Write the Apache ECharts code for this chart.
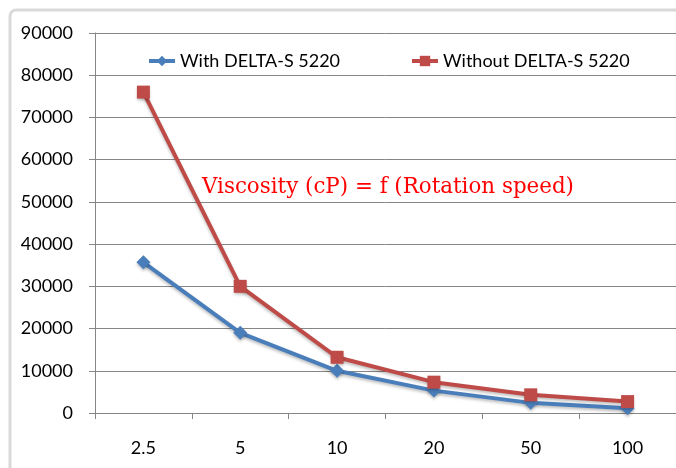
<!DOCTYPE html>
<html>
<head>
<meta charset="utf-8">
<script src="https://cdn.jsdelivr.net/npm/echarts@6/dist/echarts.min.js"></script>
<style>
  html, body { margin: 0; padding: 0; background: #fff; }
  #container { width: 676px; height: 468px; }
</style>
</head>
<body>
<div id="container"></div>
<script>
// rotation speed categories and viscosity values (cP)
var speeds = ['2.5', '5', '10', '20', '50', '100'];
var withDelta = [35700, 19000, 10000, 5300, 2400, 1100];
var withoutDelta = [76000, 30000, 13200, 7300, 4300, 2700];
var seriesNames = ['With DELTA-S 5220', 'Without DELTA-S 5220'];
var noteText = 'Viscosity (cP) = f (Rotation speed)';

var dom = document.getElementById('container');
var myChart = echarts.init(dom);

var axisGray = '#868686';
var font = 'Lato, "Open Sans", sans-serif';

var option = {
	animation: false,
	backgroundColor: '#fff',
	grid: {
		left: 95,
		right: 0,
		top: 33,
		bottom: 55
	},
	legend: {
		top: 47,
		left: 142,
		itemWidth: 26,
		itemHeight: 13,
		itemGap: 70,
		lineStyle: { width: 4 },
		textStyle: { fontFamily: font, fontSize: 18, color: '#000' },
		data: seriesNames
	},
	graphic: [{
		type: 'rect',
		shape: { x: 10, y: 10, width: 700, height: 500, r: 6 },
		style: { fill: 'none', stroke: '#d9d9d9', lineWidth: 3 },
		z: -1
	}, {
		type: 'text',
		left: 202,
		top: 177,
		style: {
			text: noteText,
			fill: '#ff0000',
			font: '21.4px "DejaVu Serif", "Liberation Serif", serif'
		}
	}],
	xAxis: {
		type: 'category',
		data: speeds,
		boundaryGap: true,
		axisLine: { lineStyle: { color: axisGray, width: 1 } },
		axisTick: { show: true, length: 6, lineStyle: { color: axisGray } },
		axisLabel: { fontFamily: font, fontSize: 18, color: '#000', margin: 26 },
		splitLine: { show: false }
	},
	yAxis: {
		type: 'value',
		min: 0,
		max: 90000,
		interval: 10000,
		axisLine: { show: true, lineStyle: { color: axisGray, width: 1 } },
		axisTick: { show: true, length: 6, lineStyle: { color: axisGray } },
		axisLabel: {
			fontFamily: font, fontSize: 18, color: '#000', margin: 22,
			formatter: function (v) { return String(v); }
		},
		splitLine: { show: true, lineStyle: { color: axisGray, width: 1 } }
	},
	series: [{
		name: seriesNames[0],
		type: 'line',
		data: withDelta,
		symbol: 'diamond',
		symbolSize: 14,
		color: '#4a7ebb',
		lineStyle: { width: 4, shadowBlur: 3, shadowColor: 'rgba(0,0,0,0.25)', shadowOffsetY: 2 },
		itemStyle: { color: '#4a7ebb', shadowBlur: 3, shadowColor: 'rgba(0,0,0,0.25)', shadowOffsetY: 2 }
	}, {
		name: seriesNames[1],
		type: 'line',
		data: withoutDelta,
		symbol: 'rect',
		symbolSize: 13,
		color: '#be4b48',
		lineStyle: { width: 4, shadowBlur: 3, shadowColor: 'rgba(0,0,0,0.25)', shadowOffsetY: 2 },
		itemStyle: { color: '#be4b48', shadowBlur: 3, shadowColor: 'rgba(0,0,0,0.25)', shadowOffsetY: 2 }
	}]
};

if (option && typeof option === 'object') {
	myChart.setOption(option, true);
}
</script>
</body>
</html>
